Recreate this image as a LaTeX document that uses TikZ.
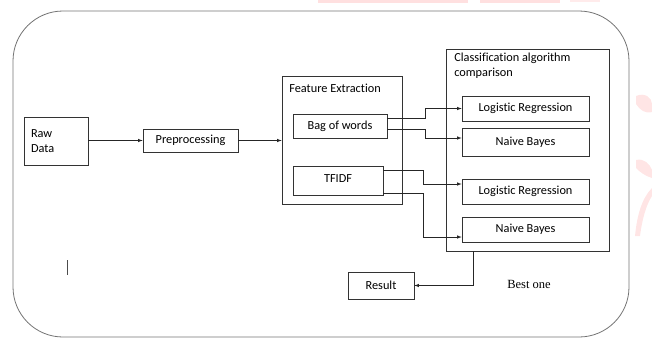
\documentclass[tikz,border=0pt]{standalone}
\usepackage{fontspec}
\setmainfont{Carlito}[Ligatures=NoCommon]
\newfontfamily\serifone{Liberation Serif}
\usetikzlibrary{positioning, shapes, arrows,}

\begin{document}
\begin{tikzpicture}[x=1pt, y=-1pt, >=latex,
    box/.style = {draw=black!80, line width=0.6pt, inner sep=0pt,
        font=\fontsize{12.3}{15}\selectfont},
    frame/.style = {draw=black!55, line width=0.8pt},
    arrow/.style = {draw=black!85, line width=0.6pt, ->}]

    \useasboundingbox (0,0) rectangle (652,338);

    % Watermark
    \fill [red!12] (318,0) rectangle (468,2.5);
    \fill [red!12] (480,0) rectangle (560,2.5);
    \fill [red!8] (570,0) rectangle (600,2);
    \fill [red!10] (636,96) .. controls (645,92) and (652,98) .. (652,104)
        -- (652,112) .. controls (645,114) and (640,110) .. (636,104) -- cycle;
    \fill [red!10] (636,160) .. controls (644,158) and (650,164) .. (652,170)
        -- (652,178) .. controls (645,176) and (640,172) .. (636,168) -- cycle;
    \fill [red!10] (652,188) .. controls (642,198) and (637,215) .. (635,236)
        -- (640,236) .. controls (642,220) and (646,205) .. (652,196) -- cycle;

    % Outer frame
    \draw [frame, rounded corners=50pt] (13,11) rectangle (629,337);

    % States
    \node [box, minimum width=64pt, minimum height=48pt, text width=50pt,
        align=left, inner xsep=7pt] (raw) at (56,141) {Raw\\Data};
    \node [box, minimum width=95pt, minimum height=23pt] (pre) at (190.5,140.5)
        {Preprocessing};
    \node [box, minimum width=120pt, minimum height=128pt] (fe) at (342,140) {};
    \node [box, draw=none, anchor=west] (fetitle) at (289,88) {Feature Extraction};
    \node [box, minimum width=94pt, minimum height=24pt] (bow) at (340,126)
        {Bag of words};
    \node [box, minimum width=90pt, minimum height=29pt] (tfidf) at (338,180.5)
        {\raisebox{4pt}{TFIDF}};

    \node [box, minimum width=163pt, minimum height=202pt] (cls) at (527.5,150) {};
    \node [box, draw=none, anchor=north west, align=left] (clstitle) at (454,53)
        {Classification algorithm\\comparison};
    \node [box, minimum width=127pt, minimum height=25pt] (lrA) at (525.5,108.5)
        {Logistic Regression};
    \node [box, minimum width=127pt, minimum height=28pt] (nbA) at (525.5,142)
        {Naive Bayes};
    \node [box, minimum width=127pt, minimum height=25pt] (lrB) at (525.5,191.5)
        {Logistic Regression};
    \node [box, minimum width=127pt, minimum height=25pt] (nbB) at (525.5,229.5)
        {Naive Bayes};

    \node [box, minimum width=66pt, minimum height=27pt] (result) at (381,285.5)
        {Result};
    \node [font=\serifone\fontsize{12.5}{15}\selectfont] (best) at (529,284)
        {Best one};
    \coordinate (cursor) at (67,260);
    \draw [black!70, line width=0.7pt] (cursor) -- ++(0,15);

    % Transitions
    \draw [arrow] (raw.east |- pre.west) -- (pre.west);
    \draw [arrow] (pre.east) -- (pre.east -| fe.west);
    \draw [arrow] ([yshift=8pt]bow.east) -- ++(38,0) |- (lrA.west);
    \draw [arrow] ([yshift=-3pt]bow.east) -- ++(38,0) |- ([yshift=4pt]nbA.west);
    \draw [arrow] ([yshift=10.5pt]tfidf.east) -- ++(40,0) |- ([yshift=7.5pt]lrB.west);
    \draw [arrow] ([yshift=-12.5pt]tfidf.east) -- ++(40,0) |- ([yshift=-7.5pt]nbB.west);
    \draw [arrow] ([xshift=-54.5pt]cls.south) |- (result.east);
\end{tikzpicture}
\end{document}
